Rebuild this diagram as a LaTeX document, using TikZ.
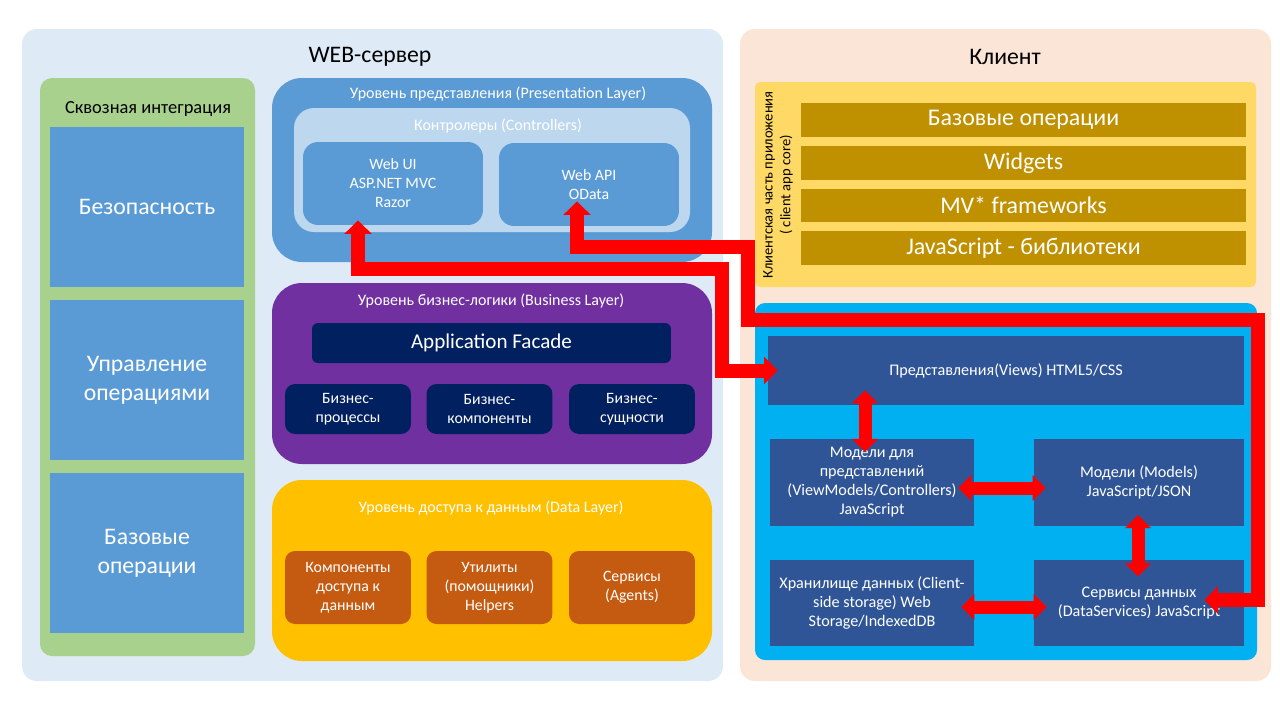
\documentclass[tikz,border=0pt]{standalone}
\usepackage{fontspec}
\setmainfont{Carlito}
\usetikzlibrary{arrows.meta}
\definecolor{srvbg}{HTML}{DEEBF7}
\definecolor{clibg}{HTML}{FBE5D6}
\definecolor{crossgreen}{HTML}{A9D18E}
\definecolor{boxblue}{HTML}{5B9BD5}
\definecolor{ctrlblue}{HTML}{BDD7EE}
\definecolor{buspurple}{HTML}{7030A0}
\definecolor{navy}{HTML}{002060}
\definecolor{dataamber}{HTML}{FFC000}
\definecolor{rust}{HTML}{C55A11}
\definecolor{coreyellow}{HTML}{FFD966}
\definecolor{gold}{HTML}{BF9000}
\definecolor{cyanbg}{HTML}{00B0F0}
\definecolor{darkblue}{HTML}{2F5597}
\definecolor{arrowred}{HTML}{FF0000}
\tikzset{
  plainbox/.style={inner sep=0pt, align=center, text=white},
  sidebox/.style={plainbox, fill=boxblue, minimum width=3.88cm, minimum height=3.2cm, font=\fontsize{13.5}{16.5}\selectfont},
  ctlbox/.style={plainbox, fill=boxblue, rounded corners=0.3cm, minimum width=3.6cm, minimum height=1.66cm, font=\fontsize{9}{10.8}\selectfont},
  busbox/.style={plainbox, fill=navy, rounded corners=0.2cm, minimum width=2.52cm, minimum height=1cm, font=\fontsize{9}{10.8}\selectfont},
  databox/.style={plainbox, fill=rust, rounded corners=0.2cm, minimum width=2.52cm, minimum height=1.46cm, font=\fontsize{9}{10.8}\selectfont},
  barbox/.style={plainbox, fill=gold, minimum width=8.9cm, minimum height=0.67cm, font=\fontsize{13.6}{15}\selectfont},
  clbox/.style={plainbox, fill=darkblue, minimum height=1.73cm, font=\fontsize{9.2}{10.8}\selectfont},
  layertitle/.style={text=white, font=\fontsize{9.1}{10}\selectfont},
  bigtitle/.style={font=\fontsize{13.5}{16}\selectfont},
  bigarrow/.style={draw=arrowred, line width=0.28cm, line join=miter,
    {Triangle[length=0.27cm,width=0.53cm]}-{Triangle[length=0.27cm,width=0.53cm]}},
  dblarrow/.style={draw=arrowred, line width=0.26cm,
    {Triangle[length=0.26cm,width=0.5cm]}-{Triangle[length=0.26cm,width=0.5cm]}}
}
\begin{document}
\begin{tikzpicture}[x=0.02cm,y=-0.02cm]
        % Page
        \fill[white] (0,0) rectangle (1280,720);
        \useasboundingbox (0,0) rectangle (1280,720);

        % Draw the two big panels
        \fill[srvbg, rounded corners=0.3cm] (22,29) rectangle (723,681); % Web server
        \fill[clibg, rounded corners=0.3cm] (740,29) rectangle (1271,681); % Client
        \node[bigtitle] (srvtitle) at (370,57) {WEB-сервер};
        \node[bigtitle] (clititle) at (1005,57) {Клиент};

        % Cross-cutting column
        \fill[crossgreen, rounded corners=0.24cm] (40,78) rectangle (255,656);
        \node[font=\fontsize{10.5}{12}\selectfont] (crosstitle) at (148,109) {Сквозная интеграция};
        \node[sidebox] (security) at (147,207) {Безопасность};
        \node[sidebox] (opsmgmt) at (147,380) {Управление\\операциями};
        \node[sidebox] (baseops) at (147,553) {Базовые\\операции};

        % Presentation layer
        \fill[boxblue, rounded corners=0.6cm] (272,78) rectangle (712,262);
        \node[layertitle] (prestitle) at (498,94) {Уровень представления (Presentation Layer)};
        \fill[ctrlblue, rounded corners=0.4cm] (294,108) rectangle (690,232);
        \node[layertitle] (ctrltitle) at (498,126) {Контролеры (Controllers)};
        \node[ctlbox] (webui) at (393,183.5) {Web UI\\ASP.NET MVC\\Razor};
        \node[ctlbox] (webapi) at (589,184.5) {Web API\\OData};

        % Business layer
        \fill[buspurple, rounded corners=0.6cm] (272,283) rectangle (712,464);
        \node[layertitle] (bustitle) at (491,301) {Уровень бизнес-логики (Business Layer)};
        \node[plainbox, fill=navy, rounded corners=0.12cm, minimum width=7.18cm, minimum height=0.8cm,
              font=\fontsize{12}{13}\selectfont] (facade) at (491.5,343) {Application Facade};
        \node[busbox] (bproc) at (348,409) {Бизнес-\\процессы};
        \node[busbox] (bcomp) at (489.5,409) {Бизнес-\\компоненты};
        \node[busbox] (bent) at (632,409) {Бизнес-\\сущности};

        % Data layer
        \fill[dataamber, rounded corners=0.6cm] (272,480) rectangle (712,661);
        \node[layertitle] (datatitle) at (491,508) {Уровень доступа к данным (Data Layer)};
        \node[databox] (daccess) at (348,587.5) {Компоненты\\доступа к\\данным};
        \node[databox] (helpers) at (489.5,587.5) {Утилиты\\(помощники)\\Helpers};
        \node[databox] (agents) at (632,587.5) {Сервисы\\(Agents)};

        % Client app core
        \fill[coreyellow, rounded corners=0.1cm] (755,82) rectangle (1256,287);
        \node[rotate=90, align=center, font=\fontsize{8.3}{10.2}\selectfont] (coretitle) at (778,185)
             {Клиентская часть приложения\\( client app core)};
        \node[barbox] (cbase) at (1023.5,120) {Базовые операции};
        \node[barbox] (widgets) at (1023.5,163) {Widgets};
        \node[barbox] (mvfw) at (1023.5,205.5) {MV* frameworks};
        \node[barbox] (jslib) at (1023.5,248) {JavaScript - библиотеки};

        % Client MV* part
        \fill[cyanbg, rounded corners=0.2cm] (755,303) rectangle (1257,660);
        \node[clbox, minimum width=9.52cm, minimum height=1.38cm] (views) at (1006,370.5) {Представления(Views) HTML5/CSS};
        \node[clbox, minimum width=4.08cm] (viewmodels) at (872,482.5) {Модели для\\представлений\\(ViewModels/Controllers)\\JavaScript};
        \node[clbox, minimum width=4.2cm] (models) at (1139,482.5) {Модели (Models)\\JavaScript/JSON};
        \node[clbox, minimum width=4.08cm] (storage) at (872,603) {Хранилище данных (Client-\\side storage) Web\\Storage/IndexedDB};
        \node[clbox, minimum width=4.2cm] (dataservices) at (1139,603) {Сервисы данных\\(DataServices) JavaScript};

        % Red links
        \coordinate (bendui) at (722,269);
        \coordinate (bendapi) at (747.5,247);
        \coordinate (bendtop) at (1257.5,320);
        \draw[bigarrow, shorten <=-0.1cm, shorten >=-0.2cm] ([xshift=-0.7cm]webui.south) |- (bendui) |- (views.west); % Web UI - Views
        \draw[bigarrow, shorten <=-0.5cm, shorten >=-0.8cm] ([xshift=-0.24cm]webapi.south) |- (bendapi) |- (bendtop) |- ([yshift=0.06cm]dataservices.east); % Web API - DataServices

        % Links inside the client
        \draw[dblarrow, shorten <=-0.26cm, shorten >=-0.3cm] ([xshift=-0.14cm]viewmodels.north) -- ([xshift=-0.14cm]viewmodels.north |- views.south);
        \draw[dblarrow, shorten <=-0.32cm, shorten >=-0.24cm] ([yshift=-0.11cm]viewmodels.east) -- ([yshift=-0.11cm]models.west);
        \draw[dblarrow, shorten <=-0.22cm, shorten >=-0.34cm] ([xshift=-0.02cm]models.south) -- ([xshift=-0.02cm]dataservices.north);
        \draw[dblarrow, shorten <=-0.26cm, shorten >=-0.26cm] ([yshift=-0.08cm]storage.east) -- ([yshift=-0.08cm]dataservices.west);
\end{tikzpicture}
\end{document}
